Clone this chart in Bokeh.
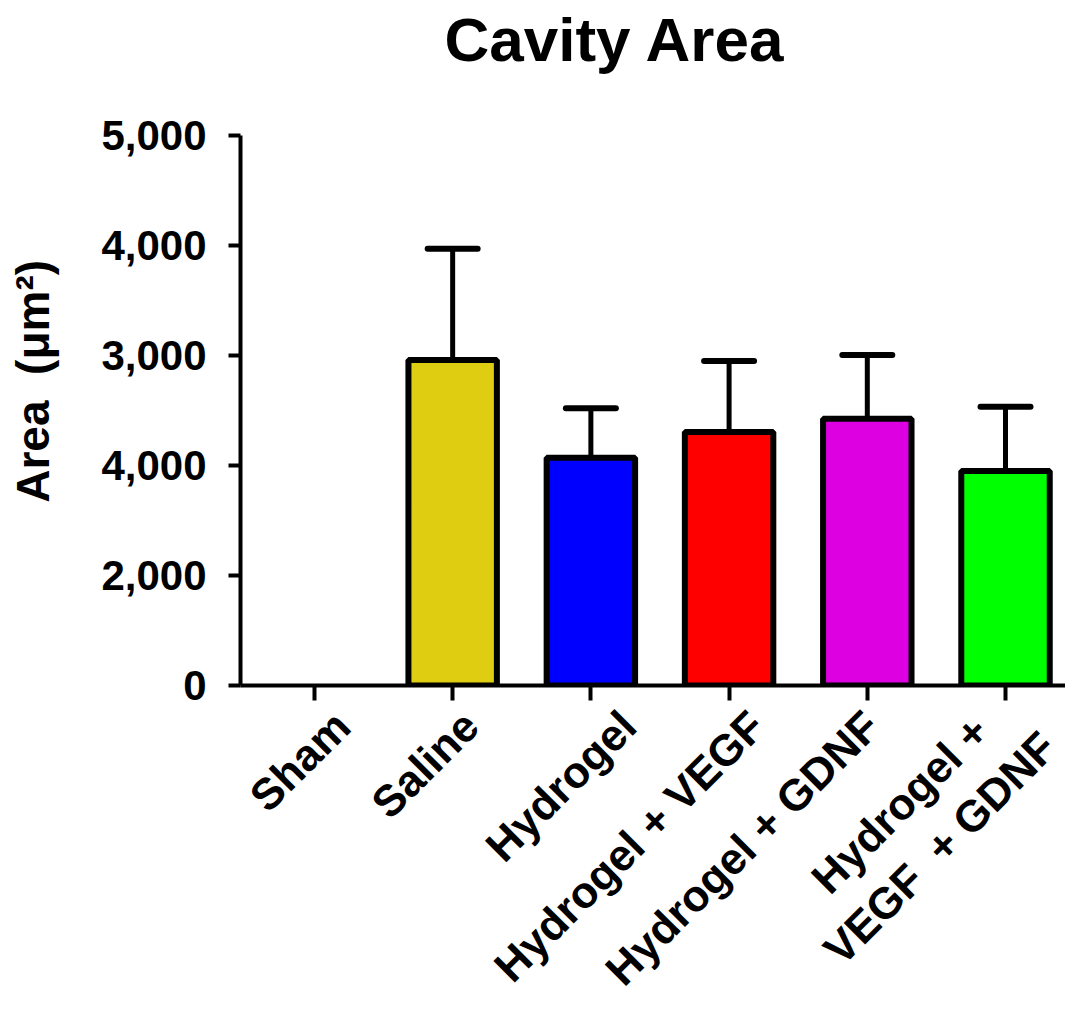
import math
from bokeh.plotting import figure
from bokeh.models import (FixedTicker, Whisker, TeeHead, ColumnDataSource, Label,
                          LinearAxis, CustomLabelingPolicy)
from bokeh.embed import file_html
from bokeh.resources import INLINE

title_text = "Cavity Area"
categories = ["Sham", "Saline", "Hydrogel", "Hydrogel + VEGF", "Hydrogel + GDNF",
              "Hydrogel +\u00a0\u00a0\u00a0\nVEGF\u00a0 + GDNF"]
means = [0, 2960, 2070, 2305, 2425, 1950]
errors = [0, 1010, 450, 645, 580, 585]
colors = ["#FFFFFF", "#DECD10", "#0000FF", "#FF0000", "#DD00E0", "#00FF00"]

y_tick_values = [0, 1000, 2000, 3000, 4000, 5000]
y_tick_labels = ["0", "2,000", "4,000", "3,000", "4,000", "5,000"]
y_axis_max = 5000

FONT = "Liberation Sans"

# layout (pixels)
FIG_W, FIG_H = 1065, 1015
BORDER_L, BORDER_B = 240, 330
FRAME_W = FIG_W - BORDER_L          # 825
FRAME_H = FIG_H - BORDER_B          # frame reaches the top of the figure
AXIS_TOP_PX = 135                   # where the 5,000 tick sits

X_START, X_END = -0.535, 5.434
Y_START = 0
Y_END = y_axis_max * FRAME_H / (FRAME_H - AXIS_TOP_PX)

xs = list(range(len(categories)))
keep = [i for i in xs if means[i] > 0]
src = ColumnDataSource(dict(
    x=[xs[i] for i in keep],
    top=[means[i] for i in keep],
    upper=[means[i] + errors[i] for i in keep],
    color=[colors[i] for i in keep],
))

p = figure(width=FIG_W, height=FIG_H, output_backend="svg", toolbar_location=None,
           x_range=(X_START, X_END), y_range=(Y_START, Y_END),
           min_border_left=BORDER_L, min_border_right=0, min_border_top=0,
           min_border_bottom=BORDER_B)
p.outline_line_color = None
p.xgrid.visible = False
p.ygrid.visible = False
p.background_fill_color = "white"

p.vbar(x="x", top="top", bottom=0, width=0.64, source=src, fill_color="color",
       line_color="black", line_width=6)

w = Whisker(base="x", lower="top", upper="upper", source=src,
            line_color="black", line_width=5,
            upper_head=TeeHead(size=50, line_width=6, line_color="black", line_cap="round"),
            lower_head=None)
p.add_layout(w)

ux = (X_END - X_START) / FRAME_W
uy = (Y_END - Y_START) / FRAME_H
title = Label(x=X_START + 204 * ux, y=y_axis_max + 96 * uy, text=title_text,
              text_font=FONT, text_font_size="62px", text_font_style="bold",
              text_color="black", text_align="left", text_baseline="alphabetic")
p.add_layout(title)

for ax in (p.xaxis[0], p.yaxis[0]):
    ax.axis_line_width = 4
    ax.axis_line_color = "black"
    ax.major_tick_line_width = 4
    ax.major_tick_line_color = "black"
    ax.major_tick_in = 0
    ax.minor_tick_line_color = None
    ax.major_label_text_font = FONT
    ax.major_label_text_font_style = "bold"
    ax.major_label_text_color = "black"

p.yaxis.bounds = (0, y_axis_max)
p.yaxis.ticker = FixedTicker(ticks=y_tick_values)
p.yaxis.major_label_overrides = {v: l for v, l in zip(y_tick_values, y_tick_labels)}
p.yaxis.major_label_text_font_size = "42px"
p.yaxis.major_tick_out = 12
p.yaxis.major_label_standoff = 22
p.yaxis.axis_label = "Area\u00a0 (μm²)" + "\u00a0" * 6
p.yaxis.axis_label_text_font = FONT
p.yaxis.axis_label_text_font_size = "46px"
p.yaxis.axis_label_text_font_style = "bold"
p.yaxis.axis_label_text_color = "black"
p.yaxis.axis_label_standoff = 39

# main x axis: line and tick marks only (labels suppressed)
p.xaxis.ticker = FixedTicker(ticks=xs)
p.xaxis.major_label_text_font_size = "2px"
p.xaxis.major_tick_out = 15
p.xaxis.major_label_standoff = 0
p.xaxis.major_label_policy = CustomLabelingPolicy(code="""
    const all = [...indices]
    for (const i of all) indices.unset(i)
    return indices
""")

# category labels, nudged horizontally relative to their ticks as in the reference
label_offsets = [0.2, 0.13, 0.27, 0.2, 0.03, 0.2]
label_pos = [x + o for x, o in zip(xs, label_offsets)]
lab_ax = LinearAxis(ticker=FixedTicker(ticks=label_pos),
                    major_label_overrides={lp: c for lp, c in zip(label_pos, categories)},
                    axis_line_color=None, major_tick_line_color=None,
                    minor_tick_line_color=None,
                    major_label_orientation=math.pi / 4,
                    major_label_standoff=8,
                    major_label_text_font=FONT, major_label_text_font_size="44px",
                    major_label_text_font_style="bold", major_label_text_color="black")
p.add_layout(lab_ax, "below")

open("out.html", "w").write(file_html(p, INLINE))
